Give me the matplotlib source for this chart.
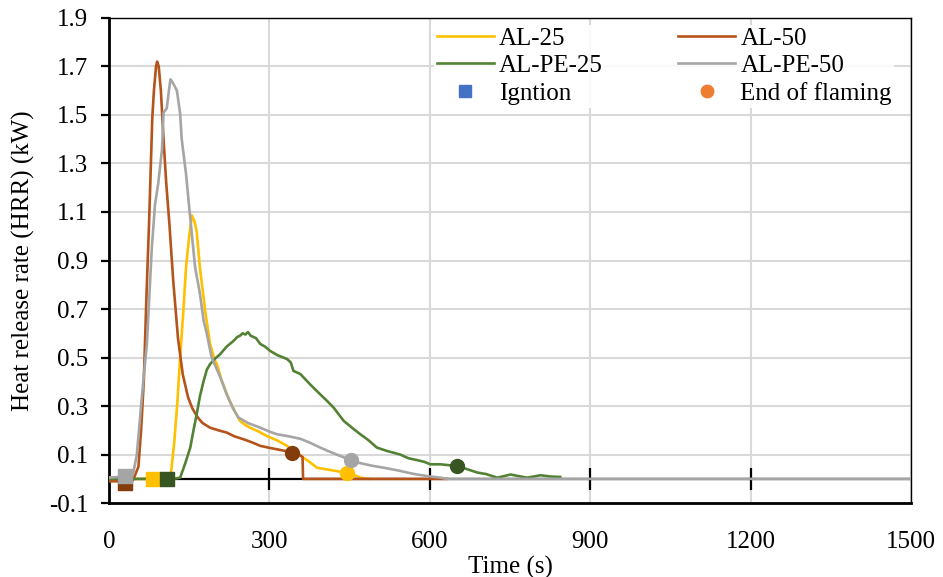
import matplotlib
matplotlib.use("Agg")
import matplotlib.pyplot as plt
from matplotlib.lines import Line2D

plt.rcParams['font.family'] = ['Liberation Serif', 'DejaVu Serif']

# AL-25
t_al25 = [0, 30, 60, 90, 115, 122, 128, 133, 139, 144, 150, 155, 160, 164, 170, 175, 180, 189,
          198, 202, 210, 223, 235, 245, 255, 264, 280, 295, 315, 333, 348, 364, 375, 389, 405,
          426, 445, 460, 470, 486]
hrr_al25 = [0.005, 0.0, 0.0, 0.0, 0.005, 0.15, 0.32, 0.50, 0.69, 0.87, 1.0, 1.086, 1.06, 1.02,
            0.87, 0.78, 0.69, 0.556, 0.487, 0.473, 0.41, 0.335, 0.28, 0.239, 0.222, 0.211, 0.195,
            0.177, 0.158, 0.136, 0.112, 0.087, 0.07, 0.046, 0.04, 0.032, 0.025, 0.015, 0.005, 0.0]

# AL-50
t_al50 = [0, 20, 45, 55, 60, 65, 70, 75, 81, 84, 88, 90, 93, 97, 102, 107, 113, 120, 129, 138,
          148, 156, 166, 175, 189, 205, 220, 235, 252, 268, 283, 300, 314, 330, 342, 355, 362,
          363, 400, 500, 632]
hrr_al50 = [-0.01, -0.01, -0.005, 0.05, 0.2, 0.4, 0.75, 1.06, 1.49, 1.60, 1.70, 1.72, 1.70, 1.60,
            1.40, 1.22, 1.05, 0.82, 0.58, 0.43, 0.335, 0.29, 0.253, 0.23, 0.211, 0.20, 0.191,
            0.175, 0.163, 0.15, 0.136, 0.128, 0.122, 0.115, 0.105, 0.10, 0.09, 0.0, 0.0, 0.0, 0.0]

# AL-PE-25
t_alpe25 = [0, 50, 100, 120, 133, 142, 152, 158, 164, 170, 177, 183, 189, 198, 208, 220, 233, 240,
            245, 250, 255, 260, 265, 275, 283, 292, 301, 315, 333, 340, 345, 358, 376, 392, 408,
            420, 439, 455, 470, 485, 501, 520, 532, 545, 560, 575, 590, 601, 620, 651, 670, 689,
            705, 726, 740, 751, 765, 782, 795, 807, 825, 844]
hrr_alpe25 = [0.0, 0.0, 0.0, 0.0, 0.005, 0.06, 0.129, 0.2, 0.266, 0.34, 0.404, 0.45, 0.473, 0.495,
              0.514, 0.545, 0.569, 0.585, 0.59, 0.60, 0.595, 0.605, 0.59, 0.58, 0.556, 0.545,
              0.528, 0.51, 0.494, 0.48, 0.445, 0.432, 0.39, 0.355, 0.321, 0.294, 0.239, 0.21,
              0.184, 0.16, 0.129, 0.115, 0.108, 0.1, 0.085, 0.078, 0.07, 0.06, 0.06, 0.053, 0.04,
              0.026, 0.02, 0.005, 0.012, 0.018, 0.012, 0.005, 0.01, 0.015, 0.01, 0.008]

# AL-PE-50
t_alpe50 = [0, 30, 45, 52, 58, 64, 71, 75, 80, 86, 92, 99, 102, 108, 112, 115, 120, 127, 133, 136,
            144, 150, 161, 170, 177, 183, 192, 208, 220, 232, 242, 260, 283, 300, 314, 335, 358,
            375, 395, 415, 433, 451, 470, 490, 514, 540, 560, 576, 600, 620, 632, 1500]
hrr_alpe50 = [0.005, 0.01, 0.02, 0.1, 0.25, 0.4, 0.56, 0.735, 0.95, 1.13, 1.217, 1.355, 1.51, 1.527,
              1.6, 1.647, 1.63, 1.60, 1.506, 1.40, 1.258, 1.12, 0.872, 0.764, 0.652, 0.597, 0.50,
              0.42, 0.349, 0.29, 0.253, 0.23, 0.211, 0.195, 0.184, 0.176, 0.165, 0.15, 0.129, 0.11,
              0.094, 0.078, 0.065, 0.055, 0.046, 0.035, 0.025, 0.018, 0.01, 0.005, 0.0, 0.0]

# ignition / end of flaming points (AL-25, AL-50, AL-PE-25, AL-PE-50)
ign_t = [83, 30, 108, 30]
ign_hrr = [0.0, -0.015, 0.0, 0.01]
end_t = [445, 342, 651, 453]
end_hrr = [0.025, 0.105, 0.055, 0.078]

line_cols = ['#FFC000', '#B5541A', '#548235', '#A5A5A5']
mark_cols = ['#FFC000', '#843C0C', '#375623', '#A5A5A5']
names = ['AL-25', 'AL-50', 'AL-PE-25', 'AL-PE-50']

x_ticks = [0, 300, 600, 900, 1200, 1500]
y_ticks = [-0.1, 0.1, 0.3, 0.5, 0.7, 0.9, 1.1, 1.3, 1.5, 1.7, 1.9]

fs = 18

fig = plt.figure(figsize=(9.43, 5.77), dpi=100)
ax = fig.add_axes([0.1156, 0.128, 0.8504, 0.841])

ax.set_xlim(0, 1500)
ax.set_ylim(-0.1, 1.9)
ax.set_xticks(x_ticks)
ax.set_yticks(y_ticks)
ax.set_yticklabels(['%.1f' % v for v in y_ticks])
ax.grid(True, color='#D9D9D9', lw=1.5, zorder=0)
ax.set_axisbelow(True)

# horizontal axis crossing at zero, with cross ticks
ax.axhline(0, color='black', lw=1.6, zorder=1)
ax.plot(x_ticks[1:-1], [0] * 4, ls='none', marker='|', ms=16, mew=1.6, color='black', zorder=1)

series = [(t_al25, hrr_al25), (t_al50, hrr_al50), (t_alpe25, hrr_alpe25), (t_alpe50, hrr_alpe50)]
for i, (t, h) in enumerate(series):
    ax.plot(t, h, color=line_cols[i], lw=1.9, zorder=3)
for i in range(4):
    ax.plot(ign_t[i], ign_hrr[i], 's', ms=10, color=mark_cols[i], zorder=5)
    ax.plot(end_t[i], end_hrr[i], 'o', ms=10, color=mark_cols[i], zorder=5)

for s in ax.spines.values():
    s.set_color('black')
    s.set_linewidth(1.0)
ax.spines['left'].set_linewidth(2)
ax.spines['bottom'].set_linewidth(2)

ax.tick_params(axis='x', length=0, pad=20, labelsize=fs)
ax.tick_params(axis='y', length=6, width=1.6, direction='out', pad=9, labelsize=fs)
ax.set_xlabel('Time (s)', fontsize=fs, labelpad=2)
ax.set_ylabel('Heat release rate (HRR) (kW)', fontsize=fs, labelpad=10)

handles = [Line2D([], [], color=line_cols[0], lw=1.9),
           Line2D([], [], color=line_cols[2], lw=1.9),
           Line2D([], [], ls='none', marker='s', ms=9, color='#4472C4'),
           Line2D([], [], color=line_cols[1], lw=1.9),
           Line2D([], [], color=line_cols[3], lw=1.9),
           Line2D([], [], ls='none', marker='o', ms=9, color='#ED7D31')]
labels = ['AL-25', 'AL-PE-25', 'Igntion', 'AL-50', 'AL-PE-50', 'End of flaming']
ax.legend(handles, labels, ncol=2, loc='upper right', bbox_to_anchor=(0.995, 1.012),
          fontsize=fs, frameon=True, facecolor='white', edgecolor='none', framealpha=0.85,
          handlelength=2.3, handletextpad=0.2, columnspacing=3.0, labelspacing=0.2,
          borderpad=0.1, fancybox=False)

fig.savefig('out.png', dpi=100)
